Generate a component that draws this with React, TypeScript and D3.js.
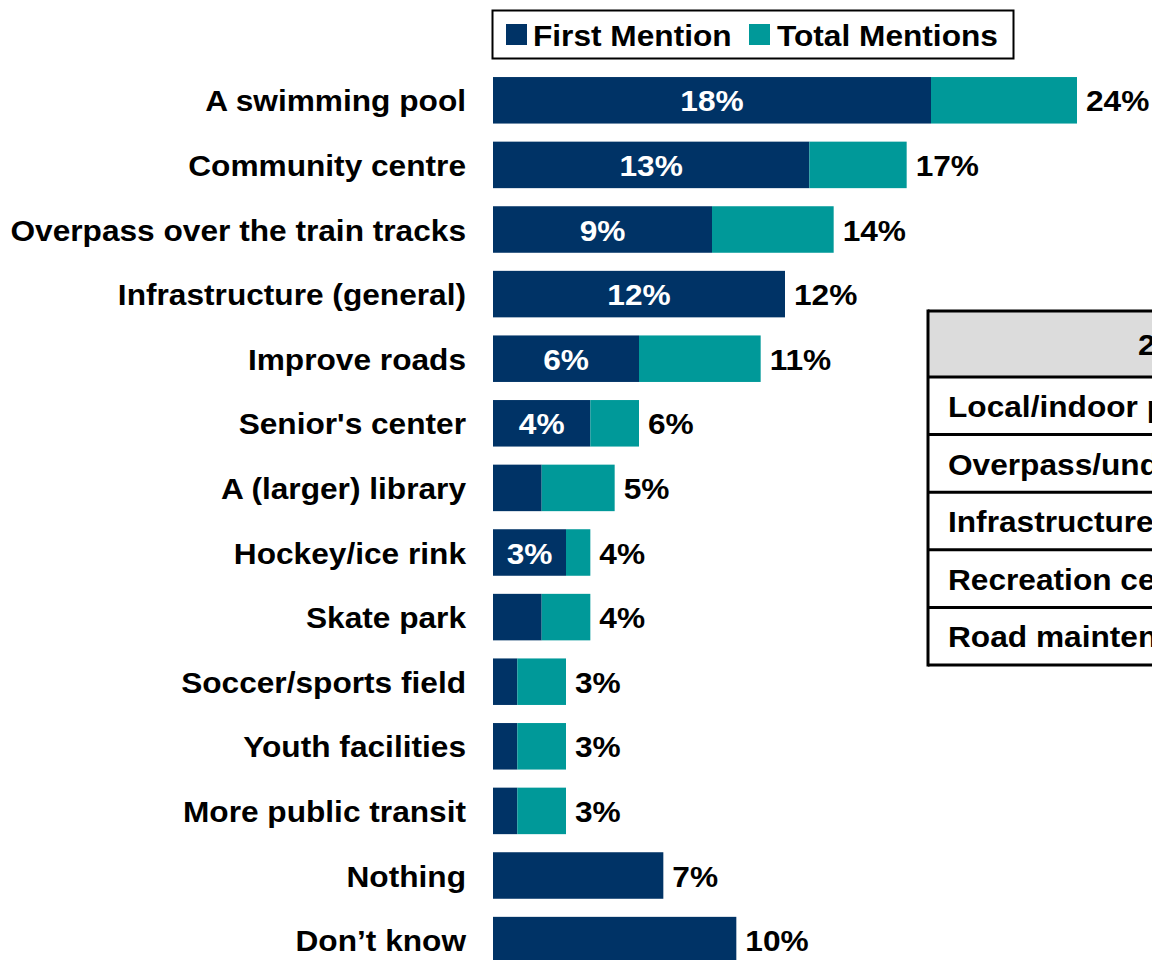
import React from "react";
import * as d3 from "d3";

const categories = [
  "A swimming pool",
  "Community centre",
  "Overpass over the train tracks",
  "Infrastructure (general)",
  "Improve roads",
  "Senior's center",
  "A (larger) library",
  "Hockey/ice rink",
  "Skate park",
  "Soccer/sports field",
  "Youth facilities",
  "More public transit",
  "Nothing",
  "Don\u2019t know",
];
const firstMention = [18, 13, 9, 12, 6, 4, 2, 3, 2, 1, 1, 1, 7, 10];
const totalMentions = [24, 17, 14, 12, 11, 6, 5, 4, 4, 3, 3, 3, 7, 10];

const tableHeader = "2012";
const tableRows = [
  "Local/indoor pool",
  "Overpass/underpass",
  "Infrastructure",
  "Recreation centre",
  "Road maintenance",
];

const NAVY = "#003366";
const TEAL = "#009999";
const FONT = "'Liberation Sans', Arial, sans-serif";
const FS = 30;
const SX = 1.055;

function T({
  x,
  y,
  anchor = "start",
  fill = "#000",
  children,
}: {
  x: number;
  y: number;
  anchor?: string;
  fill?: string;
  children: React.ReactNode;
}) {
  return (
    <text
      transform={`translate(${x},${y}) scale(${SX},1)`}
      dy="0.37em"
      textAnchor={anchor}
      fontSize={FS}
      fill={fill}
    >
      {children}
    </text>
  );
}

export default function App() {
  const W = 1152;
  const H = 960;
  const x = d3.scaleLinear().domain([0, 24]).range([493, 1077]);
  const y = d3
    .scaleBand<string>()
    .domain(categories)
    .range([68, 972.4])
    .paddingInner(0.28)
    .paddingOuter(0.14);
  const bw = y.bandwidth();

  const tTop = 311;
  const headerH = 66;
  const rowH = 57.6;
  const tLeft = 928;

  return (
    <svg
      width={W}
      height={H}
      style={{ position: "absolute", left: 0, top: 0, background: "#fff" }}
      fontFamily={FONT}
      fontWeight="bold"
    >
      <rect width={W} height={H} fill="#fff" />
      {/* legend */}
      <rect x={492.5} y={10.5} width={521} height={48} fill="#fff" stroke="#000" strokeWidth={2} />
      <rect x={506} y={24} width={21} height={21} fill={NAVY} />
      <T x={533} y={34.5}>First Mention</T>
      <rect x={749} y={24} width={21} height={21} fill={TEAL} />
      <T x={777} y={34.5}>Total Mentions</T>

      {/* bars */}
      {categories.map((c, i) => {
        const yy = y(c)!;
        const cy = yy + bw / 2;
        const f = firstMention[i];
        const t = totalMentions[i];
        const showInside = f >= 3 && (t > f || f === 12);
        return (
          <g key={c}>
            <T x={466} y={cy} anchor="end">
              {c}
            </T>
            <rect x={x(0)} y={yy} width={x(f) - x(0)} height={bw} fill={NAVY} />
            {t > f && (
              <rect x={x(f)} y={yy} width={x(t) - x(f)} height={bw} fill={TEAL} />
            )}
            {showInside && (
              <T x={(x(0) + x(f)) / 2} y={cy} anchor="middle" fill="#fff">
                {f}%
              </T>
            )}
            <T x={x(t) + 9} y={cy}>
              {t}%
            </T>
          </g>
        );
      })}

      {/* table */}
      <rect x={tLeft} y={tTop} width={W - tLeft + 10} height={headerH} fill="#dcdcdc" />
      <T x={1138} y={tTop + headerH / 2}>
        {tableHeader}
      </T>
      {tableRows.map((r, i) => {
        const ry = tTop + headerH + i * rowH;
        return (
          <g key={r}>
            <T x={948} y={ry + rowH / 2}>
              {r}
            </T>
          </g>
        );
      })}
      {[0, 1, 2, 3, 4, 5, 6].map((k) => {
        const ly = k === 0 ? tTop : tTop + headerH + (k - 1) * rowH;
        return (
          <line key={k} x1={tLeft} x2={W + 5} y1={ly} y2={ly} stroke="#000" strokeWidth={3} />
        );
      })}
      <line
        x1={tLeft}
        x2={tLeft}
        y1={tTop - 1.5}
        y2={tTop + headerH + 5 * rowH + 1.5}
        stroke="#000"
        strokeWidth={3}
      />
    </svg>
  );
}
